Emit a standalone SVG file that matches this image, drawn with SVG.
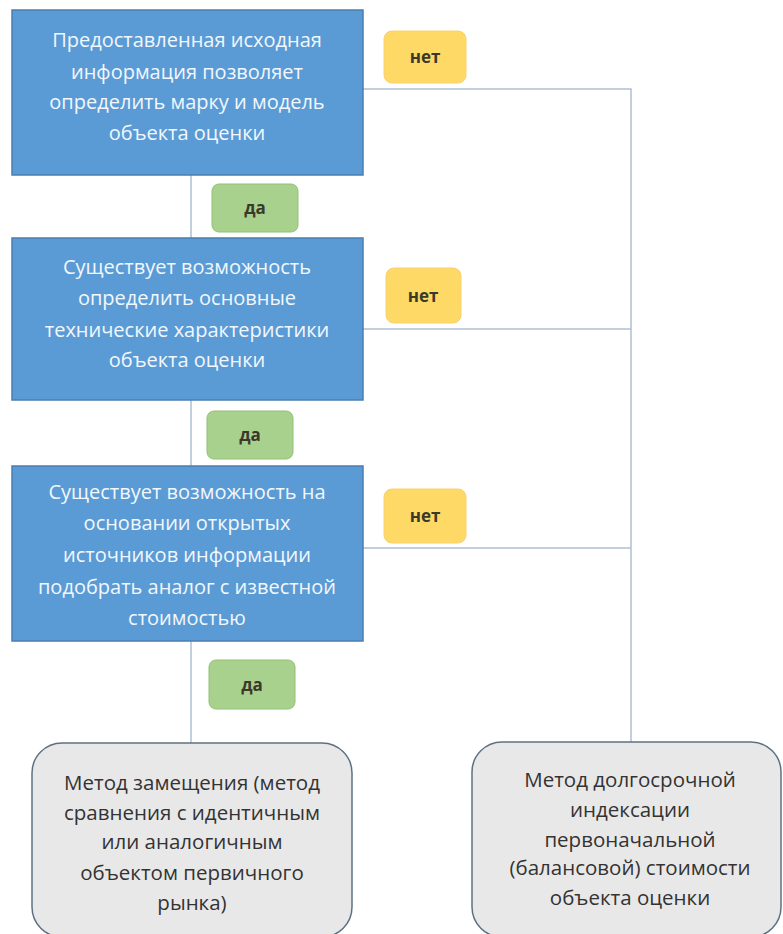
<svg xmlns="http://www.w3.org/2000/svg" width="783" height="934" viewBox="0 0 783 934">
<style>
.q{fill:#5B9BD5;stroke:#4A7FB0;stroke-width:1.5}
.qt{fill:#F2F7FC;font-family:"Open Sans","Liberation Sans",sans-serif;font-size:20px;text-anchor:middle}
.yes{fill:#A9D18E;stroke:#93C076;stroke-width:1}
.no{fill:#FFD966;stroke:#F8D070;stroke-width:1}
.lt{fill:#3A3A2A;font-family:"Open Sans","Liberation Sans",sans-serif;font-size:17px;font-weight:bold;text-anchor:middle}
.res{fill:#E9E8E8;stroke:#5E7183;stroke-width:1.5}
.rt{fill:#333333;font-family:"Open Sans","Liberation Sans",sans-serif;font-size:20.5px;text-anchor:middle}
.c{stroke:#AFC0D4;stroke-width:1.5;fill:none}
</style>
<rect width="783" height="934" fill="#FFFFFF"/>
<g id="connectors">
<path class="c" d="M191 175V238M191 400V466M191 641V743"/>
<path class="c" d="M363 89H631V742M363 329H631M363 548H631"/>
</g>
<g id="q1">
<rect class="q" x="12" y="10" width="351" height="165"/>
<text class="qt"><tspan x="187" y="47">Предоставленная исходная</tspan><tspan x="187" y="79">информация позволяет</tspan><tspan x="187" y="109">определить марку и модель</tspan><tspan x="187" y="140">объекта оценки</tspan></text>
</g>
<g id="q2">
<rect class="q" x="12" y="238" width="351" height="162"/>
<text class="qt"><tspan x="187" y="274">Существует возможность</tspan><tspan x="187" y="305">определить основные</tspan><tspan x="187" y="337">технические характеристики</tspan><tspan x="187" y="367">объекта оценки</tspan></text>
</g>
<g id="q3">
<rect class="q" x="12" y="466" width="351" height="175"/>
<text class="qt"><tspan x="187" y="499">Существует возможность на</tspan><tspan x="187" y="530">основании открытых</tspan><tspan x="187" y="562">источников информации</tspan><tspan x="187" y="594">подобрать аналог с известной</tspan><tspan x="187" y="625">стоимостью</tspan></text>
</g>
<g id="yes1"><rect class="yes" x="212" y="184" width="86" height="48" rx="7"/><text class="lt" x="255" y="214">да</text></g>
<g id="yes2"><rect class="yes" x="207" y="411" width="86" height="48" rx="7"/><text class="lt" x="250" y="441">да</text></g>
<g id="yes3"><rect class="yes" x="209" y="660" width="86" height="49" rx="7"/><text class="lt" x="252" y="691">да</text></g>
<g id="no1"><rect class="no" x="384" y="31" width="82" height="52" rx="8"/><text class="lt" x="425" y="63">нет</text></g>
<g id="no2"><rect class="no" x="386" y="268" width="75" height="55" rx="8"/><text class="lt" x="423" y="302">нет</text></g>
<g id="no3"><rect class="no" x="384" y="489" width="82" height="54" rx="8"/><text class="lt" x="425" y="522">нет</text></g>
<g id="r1">
<rect class="res" x="32" y="743" width="320" height="194" rx="30"/>
<text class="rt"><tspan x="192" y="790">Метод замещения (метод</tspan><tspan x="192" y="820">сравнения с идентичным</tspan><tspan x="192" y="849">или аналогичным</tspan><tspan x="192" y="880">объектом первичного</tspan><tspan x="192" y="910">рынка)</tspan></text>
</g>
<g id="r2">
<rect class="res" x="472" y="742" width="309" height="195" rx="30"/>
<text class="rt"><tspan x="630" y="787">Метод долгосрочной</tspan><tspan x="630" y="817">индексации</tspan><tspan x="630" y="847">первоначальной</tspan><tspan x="630" y="875">(балансовой) стоимости</tspan><tspan x="630" y="905">объекта оценки</tspan></text>
</g>
</svg>
